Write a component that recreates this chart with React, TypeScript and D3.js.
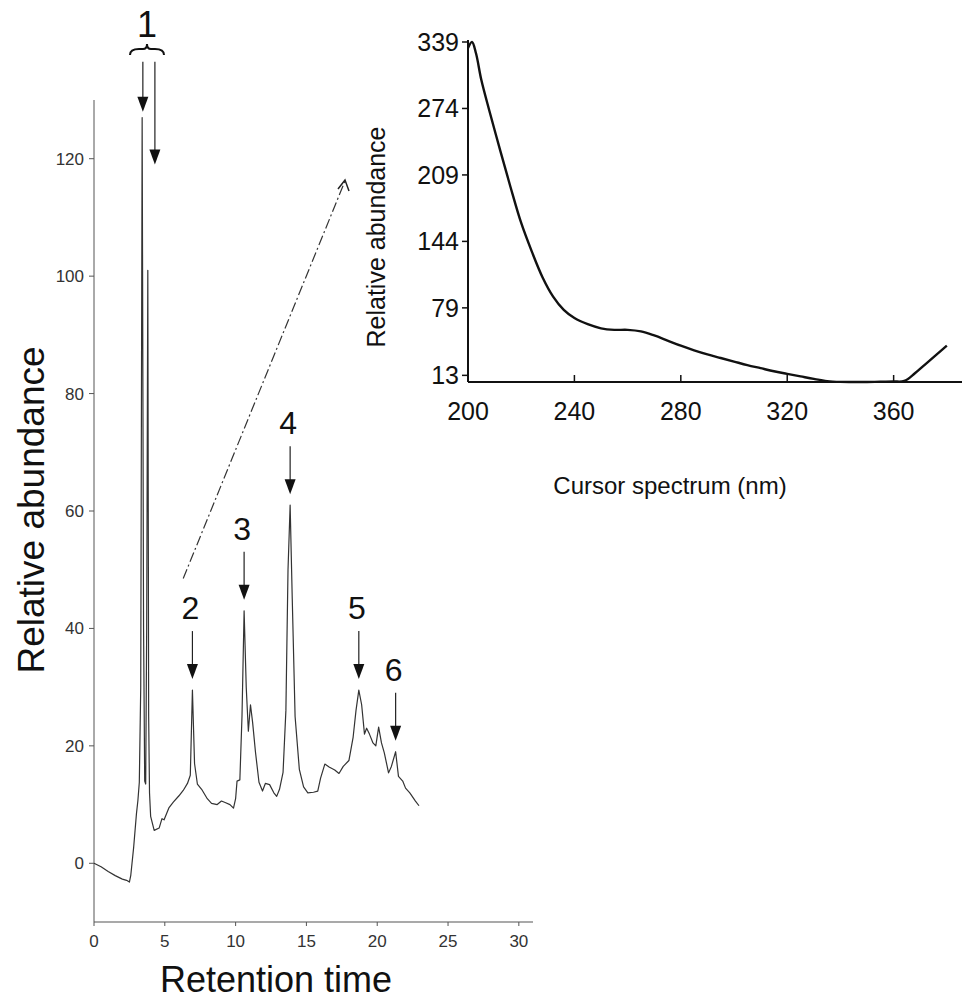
import React from "react";
import * as d3 from "d3";

// chromatogram (retention time in min, relative abundance)
const retTime = [
  0, 0.5, 1.0, 1.5, 2.0, 2.3, 2.5, 2.6, 2.8, 3.0, 3.1, 3.2, 3.3, 3.4, 3.5, 3.58, 3.65, 3.72, 3.8, 3.86,
  3.92, 4.0, 4.25, 4.6, 4.8, 4.95, 5.3, 5.6, 6.0, 6.3, 6.6, 6.8, 6.95, 7.1, 7.3, 7.6, 8.0, 8.3, 8.7, 9.0,
  9.3, 9.6, 9.85, 10.0, 10.1, 10.3, 10.45, 10.6, 10.75, 10.9, 11.05, 11.2, 11.4, 11.65, 11.9, 12.1, 12.4,
  12.7, 12.9, 13.1, 13.35, 13.55, 13.7, 13.85, 14.0, 14.2, 14.5, 14.8, 15.1, 15.5, 15.8, 16.0, 16.3, 16.6,
  17.0, 17.3, 17.6, 18.0, 18.3, 18.5, 18.7, 18.9, 19.1, 19.25, 19.45, 19.7, 19.9, 20.1, 20.3, 20.5, 20.8,
  21.0, 21.3, 21.5, 21.8, 22.0, 22.3, 22.7, 22.95,
];
const abundance = [
  0, -0.6, -1.4, -2.1, -2.7, -2.9, -3.2, -2.0, 2.7, 8.5, 10.7, 13.8, 30, 127, 40, 14, 13.5, 40, 101, 25,
  12, 8, 5.6, 6.0, 7.6, 7.4, 9.5, 10.4, 11.5, 12.4, 13.6, 15, 29.5, 17, 13.5, 12.6, 11, 10.2, 10.0, 10.6,
  10.3, 10.0, 9.4, 11, 14, 14.2, 25, 43, 30, 22.5, 27, 24, 19, 13.8, 12.3, 13.6, 13.4, 12.0, 11.4, 12.6,
  15.5, 26, 50, 61, 45, 25, 16, 13, 12, 12.1, 12.3, 14.5, 16.9, 16.4, 15.9, 15.3, 16.5, 17.5, 21.5, 26,
  29.5, 27, 22, 23, 22, 20.5, 20, 23.2, 20.5, 18.8, 15.4, 16.5, 19, 14.8, 14, 12.8, 12, 10.6, 9.8,
];

// UV spectrum of the inset (nm, relative abundance)
const wavelength = [
  200, 201.5, 203, 205, 208, 212, 216, 220, 224, 228, 232, 236, 240, 245, 250, 255, 260, 265, 270, 275,
  280, 285, 290, 295, 300, 305, 310, 315, 320, 325, 330, 335, 340, 345, 350, 355, 360, 364, 368, 372,
  376, 380,
];
const spectrum = [
  333, 339, 328, 302, 272, 234, 197, 162, 134, 109, 90, 77, 69, 63, 59, 57.5, 57.5, 56, 52, 47,
  42, 37.5, 33.5, 30, 26.5, 23, 20, 17, 14.5, 12, 9.5, 7.4, 6.6, 6.5, 6.5, 6.8, 7.0, 7.5, 15, 24,
  33, 42,
];

const mainYTicks = [0, 20, 40, 60, 80, 100, 120];
const mainXTicks = [0, 5, 10, 15, 20, 25, 30];
const insetYTicks = [13, 79, 144, 209, 274, 339];
const insetXTicks = [200, 240, 280, 320, 360];

// peak annotations
const peakNames = ["2", "3", "4", "5", "6"];
const peakTimes = [6.95, 10.6, 13.85, 18.7, 21.3];
const peakHeights = [29.5, 43, 61, 29.5, 19];
const peak1ArrowTimes = [3.45, 4.3];
const peak1Tips = [128, 119];

const FONT = "'Liberation Sans', Arial, sans-serif";

const Arrow = ({ x, y1, y2, w = 1.2 }) => (
  <g>
    <line x1={x} x2={x} y1={y1} y2={y2 - 12} stroke="#222" strokeWidth={w} />
    <path d={`M${x - 5.5},${y2 - 15} L${x + 5.5},${y2 - 15} L${x},${y2} Z`} fill="#111" />
  </g>
);

const App = () => {
  // main chromatogram scales
  const x = d3.scaleLinear().domain([0, 31]).range([94, 533]);
  const y = d3.scaleLinear().domain([-10, 130]).range([922, 100]);
  const line = d3
    .line<number>()
    .x((d, i) => x(retTime[i]))
    .y(d => y(d))
    .curve(d3.curveLinear);

  // inset scales
  const ix = d3.scaleLinear().domain([200, 385.7]).range([468, 962]);
  const iy = d3.scaleLinear().domain([6.5, 339]).range([382, 42]);
  const iline = d3
    .line<number>()
    .x((d, i) => ix(wavelength[i]))
    .y(d => iy(d))
    .curve(d3.curveCatmullRom.alpha(0.5));

  const p1x = 147;
  const braceY = y(138.7);

  return (
    <div style={{ position: "absolute", left: 0, top: 0 }}>
      <svg width={962} height={1001} style={{ display: "block", background: "#fff" }} fontFamily={FONT}>
        {/* main axes */}
        <line x1={x(0)} x2={x(0)} y1={y(130)} y2={y(-10)} stroke="#555" strokeWidth={1} />
        <line x1={x(0)} x2={x(31)} y1={y(-10)} y2={y(-10)} stroke="#555" strokeWidth={1.2} />
        {mainYTicks.map(t => (
          <g key={t}>
            <line x1={x(0) - 5} x2={x(0)} y1={y(t)} y2={y(t)} stroke="#555" />
            <text x={x(0) - 10} y={y(t) + 6} fontSize={17} textAnchor="end" fill="#333">
              {t}
            </text>
          </g>
        ))}
        {mainXTicks.map(t => (
          <g key={t}>
            <line x1={x(t)} x2={x(t)} y1={y(-10)} y2={y(-10) + 4} stroke="#555" />
            <text x={x(t)} y={y(-10) + 25} fontSize={17} textAnchor="middle" fill="#333">
              {t}
            </text>
          </g>
        ))}
        <text x={276} y={992} fontSize={36} textAnchor="middle" fill="#111">
          Retention time
        </text>
        <text
          transform={`translate(44, 510) rotate(-90)`}
          fontSize={37}
          textAnchor="middle"
          fill="#111"
        >
          Relative abundance
        </text>

        {/* chromatogram trace */}
        <path d={line(abundance) || ""} fill="none" stroke="#333" strokeWidth={1.2} strokeLinejoin="round" />

        {/* peak 1 annotation */}
        <text x={p1x} y={y(140.7)} fontSize={36} textAnchor="middle" fill="#111">
          1
        </text>
        <path
          d={`M${p1x - 17},${braceY + 6} Q${p1x - 17},${braceY} ${p1x - 8},${braceY} L${p1x - 4},${braceY} Q${p1x},${braceY} ${p1x},${braceY - 5} Q${p1x},${braceY} ${p1x + 4},${braceY} L${p1x + 8},${braceY} Q${p1x + 17},${braceY} ${p1x + 17},${braceY + 6}`}
          fill="none"
          stroke="#111"
          strokeWidth={2}
        />
        {peak1ArrowTimes.map((t, i) => (
          <Arrow key={i} x={x(t)} y1={y(136.5)} y2={y(peak1Tips[i])} />
        ))}

        {/* other peaks */}
        {peakNames.map((n, i) => {
          const px = x(peakTimes[i]);
          const tip = y(peakHeights[i]) - 11;
          return (
            <g key={n}>
              <Arrow x={px} y1={tip - 48} y2={tip} />
              <text x={px - 2} y={tip - 60} fontSize={32} textAnchor="middle" fill="#111">
                {n}
              </text>
            </g>
          );
        })}

        {/* dashed pointer to inset */}
        <line
          x1={x(6.3)}
          y1={y(48.5)}
          x2={345}
          y2={181}
          stroke="#333"
          strokeWidth={1.2}
          strokeDasharray="10,3,2,3"
        />
        <path d="M338,189 L345,180 L349,191" fill="none" stroke="#222" strokeWidth={1.5} />

        {/* inset */}
        <line x1={ix(200)} x2={ix(200)} y1={iy(339) - 2} y2={iy(6.5)} stroke="#111" strokeWidth={2} />
        <line x1={ix(200)} x2={962} y1={iy(6.5)} y2={iy(6.5)} stroke="#111" strokeWidth={2} />
        {insetYTicks.map(t => (
          <g key={t}>
            <line x1={ix(200) - 6} x2={ix(200)} y1={iy(t)} y2={iy(t)} stroke="#111" strokeWidth={1.5} />
            <text x={ix(200) - 9} y={iy(t) + 9} fontSize={25} textAnchor="end" fill="#111">
              {t}
            </text>
          </g>
        ))}
        {insetXTicks.map(t => (
          <g key={t}>
            {t > 200 && (
              <line x1={ix(t)} x2={ix(t)} y1={iy(6.5)} y2={iy(6.5) - 7} stroke="#111" strokeWidth={1.5} />
            )}
            <text x={ix(t)} y={iy(6.5) + 38} fontSize={25} textAnchor="middle" fill="#111">
              {t}
            </text>
          </g>
        ))}
        <text x={670} y={494} fontSize={24} textAnchor="middle" fill="#111">
          Cursor spectrum (nm)
        </text>
        <text transform={`translate(385, 237) rotate(-90)`} fontSize={25} textAnchor="middle" fill="#111">
          Relative abundance
        </text>
        <path d={iline(spectrum) || ""} fill="none" stroke="#111" strokeWidth={2.4} strokeLinejoin="round" />
      </svg>
    </div>
  );
};

export default App;
